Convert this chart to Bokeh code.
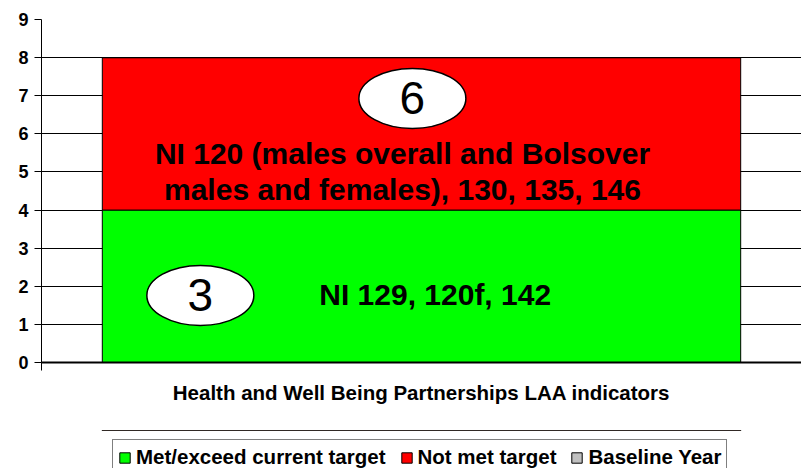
from bokeh.plotting import figure
from bokeh.layouts import column
from bokeh.models import (Range1d, FixedTicker, Legend, LegendItem)
from bokeh.core.properties import value
from bokeh.embed import file_html
from bokeh.resources import INLINE

# ---- data ----
category = ["Health and Well Being Partnerships LAA indicators"]
met_target = [4]
not_met_target = [4]
baseline_year = [0]
count_met = ["3"]
count_not_met = ["6"]
label_met = ["NI 129, 120f, 142"]
label_not_met = ["NI 120 (males overall and Bolsover\nmales and females), 130, 135, 146"]
y_ticks = [0, 1, 2, 3, 4, 5, 6, 7, 8, 9]
series_names = ["Met/exceed current target", "Not met target", "Baseline Year"]
colors = ["#00FF00", "#FF0000", "#C0C0C0"]

FONT = "Liberation Sans"

fig = figure(width=801, height=430, output_backend="svg", toolbar_location=None,
             x_range=Range1d(0, 1), y_range=Range1d(0, 9),
             min_border_left=41, min_border_right=0, min_border_top=19,
             min_border_bottom=68)
fig.outline_line_color = None
fig.background_fill_color = "white"

xc = 0.5
bottoms_met = [0 for _ in met_target]
tops_met = [b + v for b, v in zip(bottoms_met, met_target)]
tops_not = [b + v for b, v in zip(tops_met, not_met_target)]
tops_base = [b + v for b, v in zip(tops_not, baseline_year)]
stack = [(bottoms_met, tops_met), (tops_met, tops_not), (tops_not, tops_base)]

for (b, t), c in zip(stack, colors):
    fig.vbar(x=[xc], bottom=b, top=t, width=0.84,
             fill_color=c, line_color="black", line_width=1)

# ellipses with counts
fig.ellipse(x=[0.488], y=[6.93], width=107, height=60, width_units="screen",
            height_units="screen", fill_color="white", line_color="black", line_width=1.5)
fig.ellipse(x=[0.209], y=[1.76], width=107, height=60, width_units="screen",
            height_units="screen", fill_color="white", line_color="black", line_width=1.5)
fig.text(x=[0.488], y=[6.93], text=count_not_met, text_font=value(FONT),
         text_font_size="46px", text_align="center", text_baseline="middle", text_color="black")
fig.text(x=[0.209], y=[1.76], text=count_met, text_font=value(FONT),
         text_font_size="46px", text_align="center", text_baseline="middle", text_color="black")

fig.text(x=[0.475], y=[5.02], text=label_not_met, text_font=value(FONT),
         text_font_size="30px", text_font_style="bold", text_align="center",
         text_baseline="middle", text_line_height=1.1, text_color="black")
fig.text(x=[0.518], y=[1.78], text=label_met, text_font=value(FONT),
         text_font_size="30px", text_font_style="bold", text_align="center",
         text_baseline="middle", text_color="black")

# axes
fig.yaxis.ticker = FixedTicker(ticks=y_ticks)
fig.yaxis.minor_tick_line_color = None
fig.yaxis.major_tick_in = 0
fig.yaxis.major_tick_out = 7
fig.yaxis.major_label_text_font = FONT
fig.yaxis.major_label_text_font_style = "bold"
fig.yaxis.major_label_text_font_size = "18px"
fig.yaxis.major_label_text_color = "black"
fig.yaxis.axis_line_color = "black"
fig.yaxis.major_tick_line_color = "black"
fig.yaxis.major_label_standoff = 6

fig.xaxis.ticker = FixedTicker(ticks=[0, 1])
fig.xaxis.major_label_overrides = {0: "", 1: ""}
fig.xaxis.minor_tick_line_color = None
fig.xaxis.major_tick_in = 0
fig.xaxis.major_tick_out = 8
fig.xaxis.axis_line_width = 2
fig.xaxis.axis_line_color = "black"
fig.xaxis.major_tick_line_color = "black"
fig.xaxis.axis_label = category[0]
fig.xaxis.axis_label_text_font = FONT
fig.xaxis.axis_label_text_font_style = "bold"
fig.xaxis.axis_label_text_font_size = "20.5px"
fig.xaxis.axis_label_text_color = "black"
fig.xaxis.axis_label_standoff = 10

fig.xgrid.grid_line_color = None
fig.ygrid.grid_line_color = "black"
fig.ygrid.grid_line_width = 1

# ---- legend strip (same series, drawn out of view so only the legend shows) ----
leg = figure(width=801, height=38, output_backend="svg", toolbar_location=None,
             x_range=Range1d(0, 1), y_range=Range1d(-20, -19),
             x_axis_location=None, y_axis_location=None,
             min_border_left=0, min_border_right=0, min_border_top=0, min_border_bottom=0)
leg.outline_line_color = None
leg.xgrid.grid_line_color = None
leg.ygrid.grid_line_color = None
lr = [leg.vbar(x=[xc], bottom=b, top=t, width=0.84, fill_color=c,
               line_color="black", line_width=1)
      for (b, t), c in zip(stack, colors)]
legend = Legend(items=[LegendItem(label=n, renderers=[r]) for n, r in zip(series_names, lr)],
                orientation="horizontal", location=(71, -7),
                glyph_width=13, glyph_height=13, label_standoff=5, spacing=14,
                padding=5, margin=0,
                border_line_color="black", border_line_width=1.2,
                label_text_font=FONT, label_text_font_style="bold",
                label_text_font_size="20.5px", label_text_color="black",
                background_fill_alpha=1)
leg.add_layout(legend, "center")

p = column(fig, leg, spacing=0)

open("out.html", "w").write(file_html(p, INLINE))
